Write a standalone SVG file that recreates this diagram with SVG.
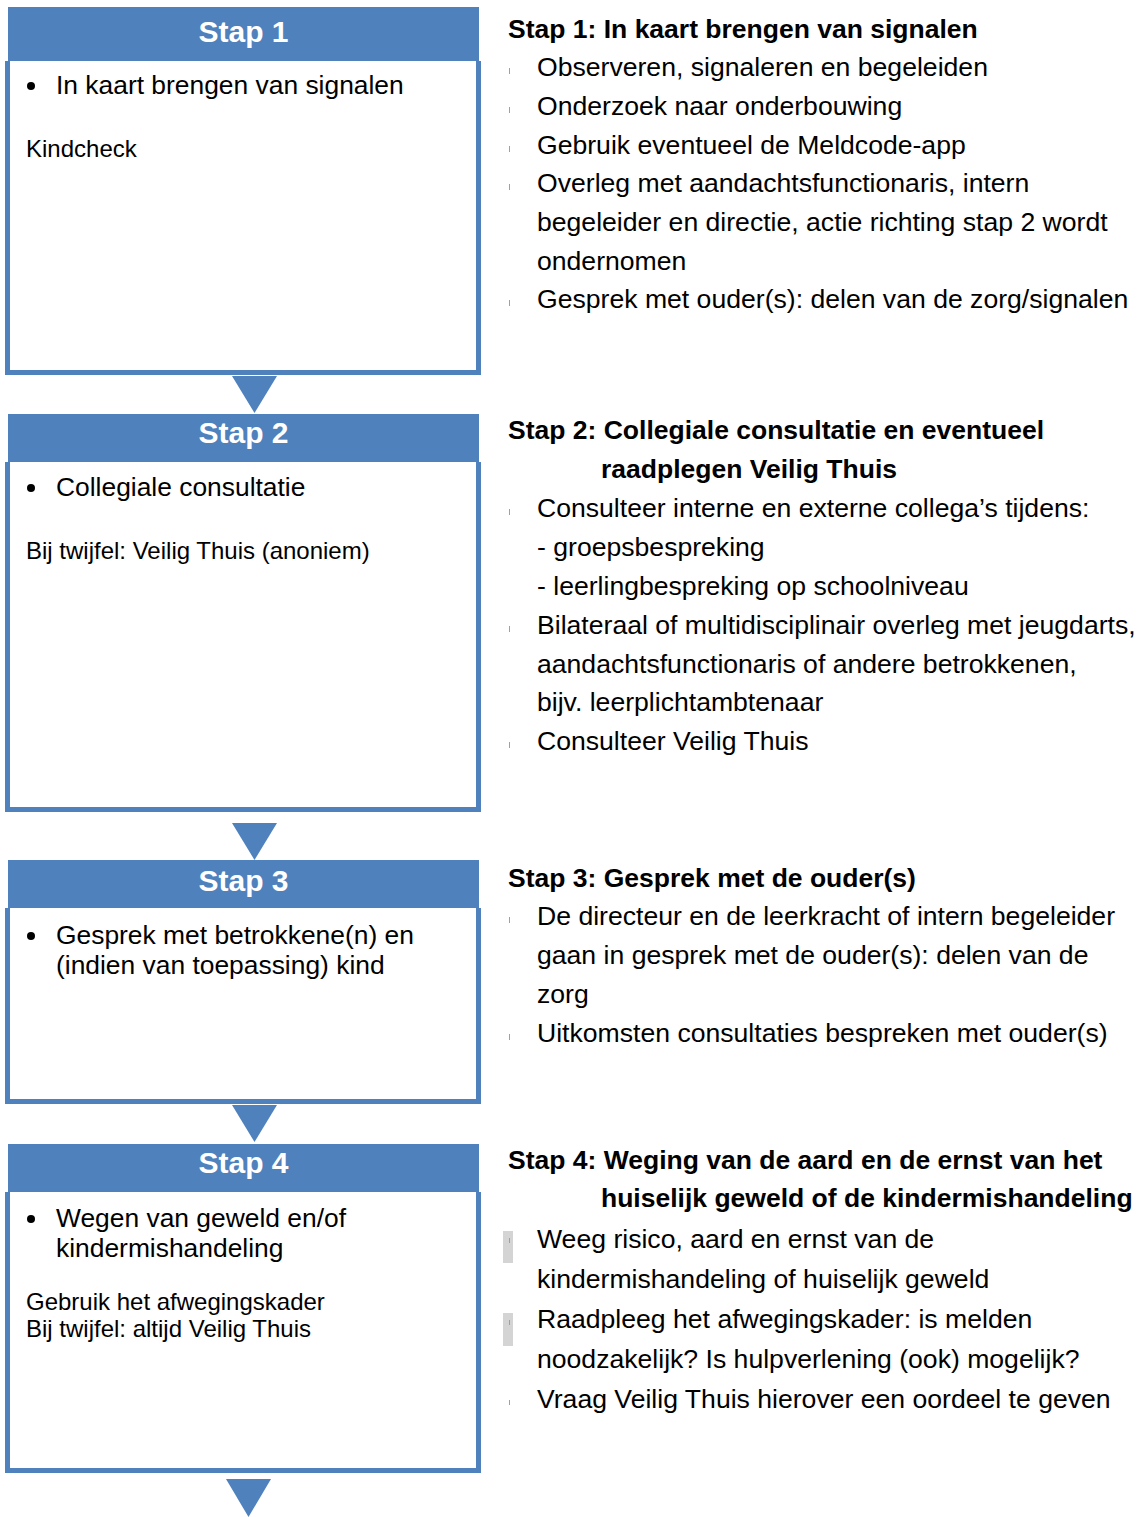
<svg xmlns="http://www.w3.org/2000/svg" width="1146" height="1517" viewBox="0 0 1146 1517">
<style>
text{font-family:"Liberation Sans",Arial,sans-serif;fill:#000}
.hdr{fill:#4F81BD}
.body{fill:#fff;stroke:#4F81BD;stroke-width:5}
.htxt{font-size:30px;font-weight:bold;fill:#fff;text-anchor:middle}
.b{font-size:26.4px}
.s{font-size:24px}
.t{font-size:26.5px;font-weight:bold}
.r{font-size:26.6px}
.tick{stroke:#a0a0a0;stroke-width:1}
.hl{fill:#d4d4d4}
.arr{fill:#4F81BD}
</style>
<rect width="1146" height="1517" fill="#fff"/>

<g id="stap1">
<path class="body" d="M7.5 61V372.5H478.5V61"/>
<rect class="hdr" x="8" y="7" width="471" height="54"/>
<text class="htxt" x="243.5" y="42">Stap 1</text>
<circle cx="31" cy="86" r="4"/>
<text class="b" x="56" y="94">In kaart brengen van signalen</text>
<text class="s" x="26" y="157">Kindcheck</text>
</g>

<g id="stap2">
<path class="body" d="M7.5 462V809.5H478.5V462"/>
<rect class="hdr" x="8" y="414" width="471" height="48"/>
<text class="htxt" x="243.5" y="443">Stap 2</text>
<circle cx="31" cy="488" r="4"/>
<text class="b" x="56" y="496">Collegiale consultatie</text>
<text class="s" x="26" y="559">Bij twijfel: Veilig Thuis (anoniem)</text>
</g>

<g id="stap3">
<path class="body" d="M7.5 908V1101.5H478.5V908"/>
<rect class="hdr" x="8" y="860" width="471" height="48"/>
<text class="htxt" x="243.5" y="891">Stap 3</text>
<circle cx="31" cy="936" r="4"/>
<text class="b" x="56" y="944">Gesprek met betrokkene(n) en</text>
<text class="b" x="56" y="974">(indien van toepassing) kind</text>
</g>

<g id="stap4">
<path class="body" d="M7.5 1192V1470.5H478.5V1192"/>
<rect class="hdr" x="8" y="1144" width="471" height="48"/>
<text class="htxt" x="243.5" y="1173">Stap 4</text>
<circle cx="31" cy="1219" r="4"/>
<text class="b" x="56" y="1227">Wegen van geweld en/of</text>
<text class="b" x="56" y="1257">kindermishandeling</text>
<text class="s" x="26" y="1310">Gebruik het afwegingskader</text>
<text class="s" x="26" y="1337">Bij twijfel: altijd Veilig Thuis</text>
</g>

<g id="connectors">
<polygon class="arr" points="232,376 277,376 254.5,413"/>
<polygon class="arr" points="232,823 277,823 254.5,860"/>
<polygon class="arr" points="232,1105 277,1105 254.5,1142"/>
<polygon class="arr" points="226,1479 271,1479 248.5,1517"/>
</g>

<g id="uitleg1">
<text class="t" x="508" y="38">Stap 1: In kaart brengen van signalen</text>
<line class="tick" x1="509.5" y1="68" x2="509.5" y2="74"/>
<line class="tick" x1="509.5" y1="107" x2="509.5" y2="113"/>
<line class="tick" x1="509.5" y1="146" x2="509.5" y2="152"/>
<line class="tick" x1="509.5" y1="184" x2="509.5" y2="190"/>
<line class="tick" x1="509.5" y1="300" x2="509.5" y2="306"/>
<text class="r" x="537" y="76">Observeren, signaleren en begeleiden</text>
<text class="r" x="537" y="115">Onderzoek naar onderbouwing</text>
<text class="r" x="537" y="154">Gebruik eventueel de Meldcode-app</text>
<text class="r" x="537" y="192">Overleg met aandachtsfunctionaris, intern</text>
<text class="r" x="537" y="231">begeleider en directie, actie richting stap 2 wordt</text>
<text class="r" x="537" y="270">ondernomen</text>
<text class="r" x="537" y="308">Gesprek met ouder(s): delen van de zorg/signalen</text>
</g>

<g id="uitleg2">
<text class="t" x="508" y="439">Stap 2: Collegiale consultatie en eventueel</text>
<text class="t" x="601" y="478">raadplegen Veilig Thuis</text>
<line class="tick" x1="509.5" y1="509" x2="509.5" y2="515"/>
<line class="tick" x1="509.5" y1="626" x2="509.5" y2="632"/>
<line class="tick" x1="509.5" y1="742" x2="509.5" y2="748"/>
<text class="r" x="537" y="517">Consulteer interne en externe collega’s tijdens:</text>
<text class="r" x="537" y="556">- groepsbespreking</text>
<text class="r" x="537" y="595">- leerlingbespreking op schoolniveau</text>
<text class="r" x="537" y="634">Bilateraal of multidisciplinair overleg met jeugdarts,</text>
<text class="r" x="537" y="673">aandachtsfunctionaris of andere betrokkenen,</text>
<text class="r" x="537" y="711">bijv. leerplichtambtenaar</text>
<text class="r" x="537" y="750">Consulteer Veilig Thuis</text>
</g>

<g id="uitleg3">
<text class="t" x="508" y="887">Stap 3: Gesprek met de ouder(s)</text>
<line class="tick" x1="509.5" y1="917" x2="509.5" y2="923"/>
<line class="tick" x1="509.5" y1="1034" x2="509.5" y2="1040"/>
<text class="r" x="537" y="925">De directeur en de leerkracht of intern begeleider</text>
<text class="r" x="537" y="964">gaan in gesprek met de ouder(s): delen van de</text>
<text class="r" x="537" y="1003">zorg</text>
<text class="r" x="537" y="1042">Uitkomsten consultaties bespreken met ouder(s)</text>
</g>

<g id="uitleg4">
<text class="t" x="508" y="1169">Stap 4: Weging van de aard en de ernst van het</text>
<text class="t" x="601" y="1207">huiselijk geweld of de kindermishandeling</text>
<rect class="hl" x="503" y="1231" width="10" height="32"/>
<rect class="hl" x="503" y="1313" width="10" height="33"/>
<line class="tick" x1="509.5" y1="1238" x2="509.5" y2="1243"/>
<line class="tick" x1="509.5" y1="1320" x2="509.5" y2="1325"/>
<line class="tick" x1="509.5" y1="1400" x2="509.5" y2="1405"/>
<text class="r" x="537" y="1248">Weeg risico, aard en ernst van de</text>
<text class="r" x="537" y="1288">kindermishandeling of huiselijk geweld</text>
<text class="r" x="537" y="1328">Raadpleeg het afwegingskader: is melden</text>
<text class="r" x="537" y="1368">noodzakelijk? Is hulpverlening (ook) mogelijk?</text>
<text class="r" x="537" y="1408">Vraag Veilig Thuis hierover een oordeel te geven</text>
</g>
</svg>
